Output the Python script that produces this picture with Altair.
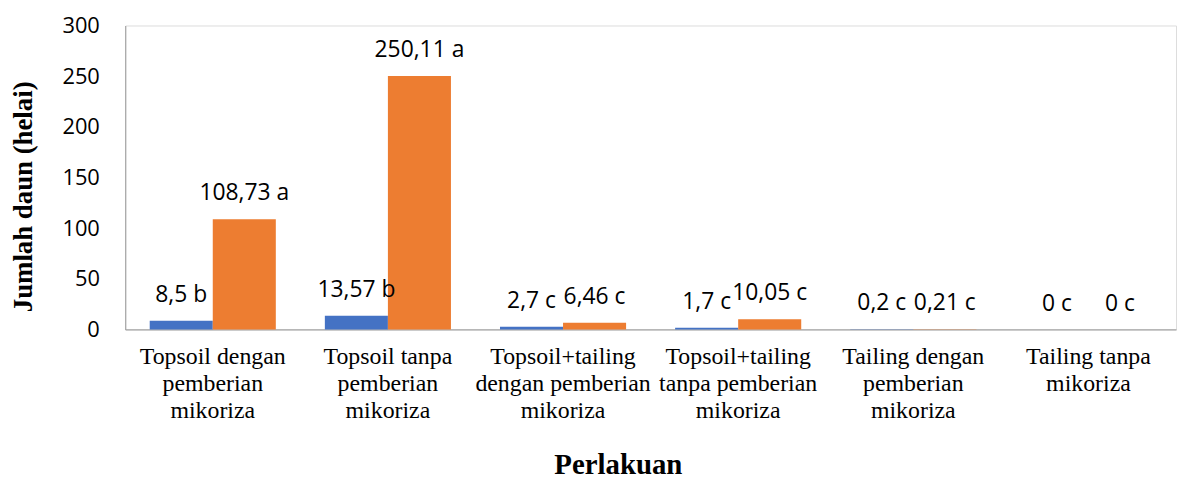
import altair as alt
import pandas as pd

# ---- data ----
categories = [
    "Topsoil dengan\npemberian\nmikoriza",
    "Topsoil tanpa\npemberian\nmikoriza",
    "Topsoil+tailing\ndengan pemberian\nmikoriza",
    "Topsoil+tailing\ntanpa pemberian\nmikoriza",
    "Tailing dengan\npemberian\nmikoriza",
    "Tailing tanpa\nmikoriza",
]
series_names = ["Seri 1", "Seri 2"]
values_s1 = [8.5, 13.57, 2.7, 1.7, 0.2, 0]
values_s2 = [108.73, 250.11, 6.46, 10.05, 0.21, 0]
labels_s1 = ["8,5 b", "13,57 b", "2,7 c", "1,7 c", "0,2 c", "0 c"]
labels_s2 = ["108,73 a", "250,11 a", "6,46 c", "10,05 c", "0,21 c", "0 c"]
series_colors = ["#4472C4", "#ED7D31"]
y_ticks = [0, 50, 100, 150, 200, 250, 300]

rows = []
for i, cat in enumerate(categories):
    rows.append({"kategori": cat, "seri": series_names[0], "nilai": values_s1[i], "label": labels_s1[i]})
    rows.append({"kategori": cat, "seri": series_names[1], "nilai": values_s2[i], "label": labels_s2[i]})
df = pd.DataFrame(rows)

AXIS_GRAY = "#A6A6A6"

x_enc = alt.X(
    "kategori:N",
    sort=categories,
    scale=alt.Scale(paddingInner=0.28, paddingOuter=0.14),
    axis=alt.Axis(
        title="Perlakuan",
        labelExpr="split(datum.value, '\\n')",
        labelAngle=0,
        labelFont="Liberation Serif",
        labelFontSize=24,
        labelLineHeight=27.5,
        labelColor="black",
        labelPadding=15,
        labelLimit=400,
        labelOverlap=False,
        ticks=False,
        grid=False,
        domainColor=AXIS_GRAY,
        domainWidth=1.2,
        titleFont="Liberation Serif",
        titleFontSize=29,
        titleFontWeight="bold",
        titleColor="black",
        titleX=496,
        titleY=145,
        titleAlign="center",
        titleBaseline="alphabetic",
    ),
)

y_enc = alt.Y(
    "nilai:Q",
    scale=alt.Scale(domain=[0, 300], nice=False),
    axis=alt.Axis(
        title="Jumlah daun (helai)",
        values=y_ticks,
        labelFont="Open Sans",
        labelFontSize=22,
        labelColor="black",
        labelPadding=26,
        ticks=False,
        grid=False,
        domainColor=AXIS_GRAY,
        domainWidth=1.2,
        titleFont="Liberation Serif",
        titleFontSize=27,
        titleFontWeight="bold",
        titleColor="black",
        titleX=-94,
        titleY=172,
        titleAngle=-90,
        titleAlign="center",
        titleBaseline="alphabetic",
    ),
)

color_enc = alt.Color(
    "seri:N",
    scale=alt.Scale(domain=series_names, range=series_colors),
    legend=None,
)

base = alt.Chart(df)

bars = base.mark_bar().encode(
    x=x_enc,
    xOffset=alt.XOffset("seri:N", sort=series_names),
    y=y_enc,
    color=color_enc,
)

texts = base.mark_text(
    dy=-26, baseline="middle", align="center", font="Open Sans", fontSize=23, color="black"
).encode(
    x=alt.X("kategori:N", sort=categories),
    xOffset=alt.XOffset("seri:N", sort=series_names),
    y=alt.Y("nilai:Q"),
    text="label:N",
)

chart = (
    alt.layer(bars, texts)
    .properties(
        width=1058,
        height=306,
        autosize=alt.AutoSizeParams(type="none"),
        padding={"left": 118, "top": 16, "right": 2, "bottom": 150},
    )
    .configure_view(stroke=None)
    .configure(background="white")
)

chart.save("out.html", embed_options={"renderer": "svg", "actions": False})
